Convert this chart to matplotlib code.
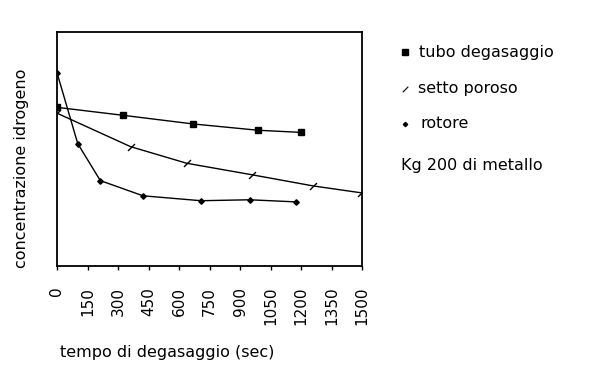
import matplotlib
matplotlib.use("Agg")
import matplotlib.pyplot as plt
from matplotlib.lines import Line2D
from matplotlib.path import Path

# ---- data (y axis has no scale -> relative units) ----
tubo_x = [0, 325, 670, 990, 1200]
tubo_y = [67.8, 64.4, 60.7, 58.0, 57.1]

setto_x = [0, 362, 638, 958, 1261, 1494]
setto_y = [65.3, 51.0, 43.9, 39.0, 34.2, 31.3]

rotore_x = [0, 102, 213, 423, 708, 948, 1174]
rotore_y = [82.6, 52.3, 36.5, 30.0, 27.9, 28.3, 27.4]

x_ticks = [0, 150, 300, 450, 600, 750, 900, 1050, 1200, 1350, 1500]
series_labels = ["tubo degasaggio", "setto poroso", "rotore"]
note = "Kg 200 di metallo"
xlabel = "tempo di degasaggio (sec)"
ylabel = "concentrazione idrogeno"

plt.rcParams['font.family'] = ['DejaVu Sans']
FS = 11.5

W, H = 601, 368
fig = plt.figure(figsize=(W / 100, H / 100), dpi=100)
ax = fig.add_axes([57 / W, 1 - 266 / H, (362 - 57) / W, (266 - 32) / H])

slash = Path([(-1, -1), (1, 1)], [Path.MOVETO, Path.LINETO])

ax.plot(tubo_x, tubo_y, color='black', lw=1, marker='s', ms=5, mec='black', mfc='black')
ax.plot(setto_x, setto_y, color='black', lw=1, marker=slash, ms=5, mew=1)
ax.plot(rotore_x, rotore_y, color='black', lw=1, marker='D', ms=2.8, mec='black', mfc='black')

ax.set_xlim(0, 1500)
ax.set_ylim(0, 100)
ax.set_xticks(x_ticks)
ax.set_xticklabels([str(t) for t in x_ticks], rotation=90, va='top', ha='center', fontsize=11)
ax.tick_params(axis='x', direction='out', length=3, width=1, pad=12)
ax.set_yticks([])
for s in ax.spines.values():
    s.set_linewidth(1.3)

fig.text(60 / W, 1 - 353 / H, xlabel, fontsize=FS, ha='left', va='center')
fig.text(22 / W, 1 - 168 / H, ylabel, fontsize=FS, rotation=90, ha='center', va='center')

# legend
markers = [('s', 4, {}), (slash, 4, {'mew': 0.8}), ('D', 2.2, {})]
rows = [52, 89, 124]
text_x = [419, 418, 421]
for (m, ms, kw), lab, ry, tx in zip(markers, series_labels, rows, text_x):
    fig.add_artist(Line2D([405 / W], [1 - ry / H], marker=m, ms=ms, color='black',
                          mfc='black', mec='black', ls='none', transform=fig.transFigure, **kw))
    fig.text(tx / W, 1 - ry / H, lab, fontsize=FS, ha='left', va='center')
fig.text(401 / W, 1 - 165 / H, note, fontsize=FS, ha='left', va='center')

fig.savefig("out.png", dpi=100)
